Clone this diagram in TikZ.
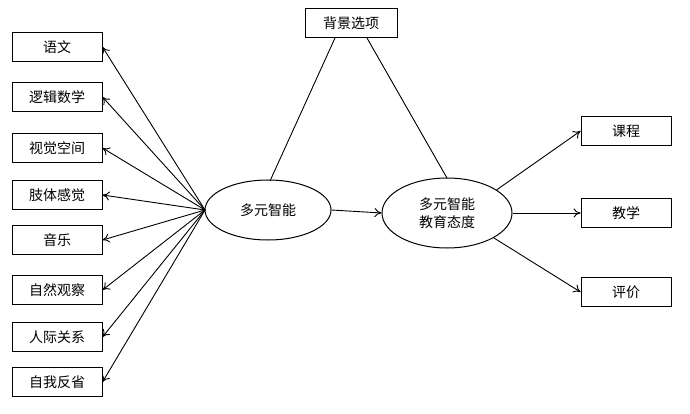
\documentclass[tikz,border=0pt]{standalone}
\usepackage{fontspec}
\setmainfont{Noto Sans CJK SC}
\usetikzlibrary{shapes.geometric,arrows.meta}
\begin{document}
\begin{tikzpicture}[x=1pt,y=-1pt,
  box/.style={draw,line width=1pt,minimum width=90pt,minimum height=29pt,inner sep=0pt,font=\fontsize{14}{16}\selectfont},
  ell/.style={draw,line width=1pt,ellipse,inner sep=0pt,font=\fontsize{14}{18}\selectfont,align=center},
  arr/.style={-{To[length=7pt,width=9pt]},line width=0.9pt}]
\useasboundingbox (0,0) rectangle (690,414);
\fill[white] (0,0) rectangle (690,414);
\node[box] (b1) at (57,47) {语文};
\node[box] (b2) at (57,97) {逻辑数学};
\node[box] (b3) at (57,148) {视觉空间};
\node[box] (b4) at (57,195) {肢体感觉};
\node[box] (b5) at (57,240) {音乐};
\node[box] (b6) at (57,290) {自然观察};
\node[box] (b7) at (57,337) {人际关系};
\node[box] (b8) at (57,382) {自我反省};
\node[box,minimum width=92pt] (bg) at (351,23) {背景选项};
\node[ell,minimum width=126pt,minimum height=60pt] (e1) at (268,210) {多元智能};
\node[ell,minimum width=130pt,minimum height=70pt] (e2) at (447,213) {多元智能\\教育态度};
\node[box] (r1) at (626,131) {课程};
\node[box] (r2) at (626,213) {教学};
\node[box] (r3) at (626,292) {评价};
\coordinate (p) at (205,210);
\foreach \b in {b1,b2,b3,b4,b5,b6,b7,b8} \draw[arr] (p) -- (\b.east);
\draw[line width=0.9pt] ([xshift=-16pt]bg.south) -- (270,181);
\draw[line width=0.9pt] ([xshift=16pt]bg.south) -- (447,178);
\draw[arr] (e1.east) -- (e2.west);
\draw[arr] (e2.25) -- (r1.west);
\draw[arr] (e2.east) -- (r2.west);
\draw[arr] (e2.-28) -- (r3.west);
\end{tikzpicture}
\end{document}
